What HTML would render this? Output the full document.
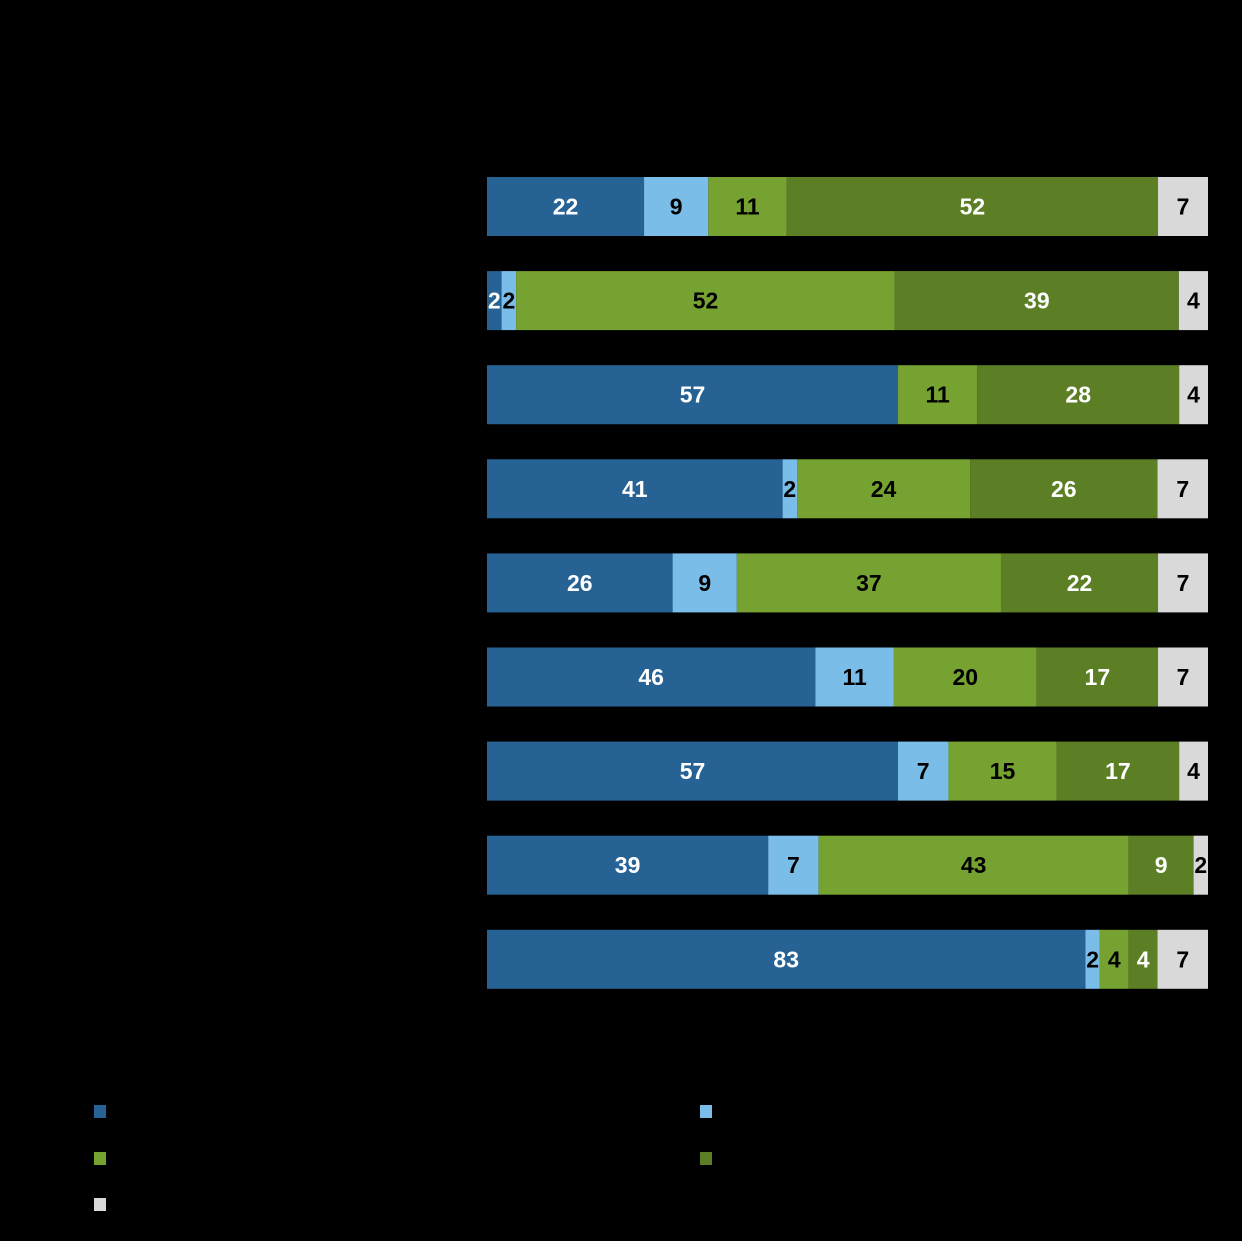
<!DOCTYPE html>
<html><head><meta charset="utf-8"><style>
html,body{margin:0;padding:0;background:#000;width:1242px;height:1241px;overflow:hidden;font-family:"Liberation Sans",sans-serif}
</style></head><body>
<svg id="chart" width="1242" height="1241" xmlns="http://www.w3.org/2000/svg">
<rect width="1242" height="1241" fill="#000"/>
<g id="bars"></g>
<g id="legend"></g>
</svg>
<script>
const categories = ["Item 1","Item 2","Item 3","Item 4","Item 5","Item 6","Item 7","Item 8","Item 9"];
const seriesNames = ["Series A","Series B","Series C","Series D","Other"];
const s1 = [22,2,57,41,26,46,57,39,83];
const s2 = [9,2,0,2,9,11,7,7,2];
const s3 = [11,52,11,24,37,20,15,43,4];
const s4 = [52,39,28,26,22,17,17,9,4];
const s5 = [7,4,4,7,7,7,4,2,7];
const series = [s1,s2,s3,s4,s5];
const colors = ["#266294","#7bbde9","#76a232","#5c7f26","#d9d9d9"];
const textColors = ["#fff","#000","#000","#fff","#000"];
const NS = "http://www.w3.org/2000/svg";
const x0 = 487, x1 = 1208, top0 = 177, step = 94.1, bh = 59;
function xScale(v, total){ return (x1 - x0) * v / total; }
function yScale(i){ return top0 + i * step; }
const g = document.getElementById('bars');
categories.forEach((c, i) => {
  const total = series.reduce((a, s) => a + s[i], 0);
  const y = yScale(i);
  const lab = document.createElementNS(NS, 'text');
  
  
  lab.setAttribute('x', 470); lab.setAttribute('y', y + bh/2 + 7);
  lab.setAttribute('text-anchor', 'end'); lab.setAttribute('font-size', '20'); lab.setAttribute('fill', '#000');
  lab.textContent = c; g.appendChild(lab);
  let cx = x0;
  series.forEach((s, k) => {
    const v = s[i]; if (!v) return;
    const w = xScale(v, total);
    const r = document.createElementNS(NS, 'rect');
    
    
    r.setAttribute('x', cx); r.setAttribute('y', y); r.setAttribute('width', w); r.setAttribute('height', bh);
    r.setAttribute('fill', colors[k]); g.appendChild(r);
    const t = document.createElementNS(NS, 'text');
    
    
    t.setAttribute('x', cx + w/2); t.setAttribute('y', y + bh/2 + 8);
    t.setAttribute('text-anchor', 'middle'); t.setAttribute('font-size', '23'); t.setAttribute('font-weight', 'bold');
    t.setAttribute('fill', textColors[k]); t.textContent = v; g.appendChild(t);
    cx += w;
  });
});
const lg = document.getElementById('legend');
const lpos = [[94,1105],[700,1105],[94,1152],[700,1152],[94,1198]];
seriesNames.forEach((n, k) => {
  const r = document.createElementNS(NS, 'rect');
  
  
  r.setAttribute('x', lpos[k][0]); r.setAttribute('y', lpos[k][1]); r.setAttribute('width', 12); r.setAttribute('height', 13);
  r.setAttribute('fill', colors[k]); lg.appendChild(r);
  const t = document.createElementNS(NS, 'text');
  
  
  t.setAttribute('x', lpos[k][0] + 22); t.setAttribute('y', lpos[k][1] + 12);
  t.setAttribute('font-size', '18'); t.setAttribute('fill', '#000'); t.textContent = n; lg.appendChild(t);
});
</script>
</body></html>
